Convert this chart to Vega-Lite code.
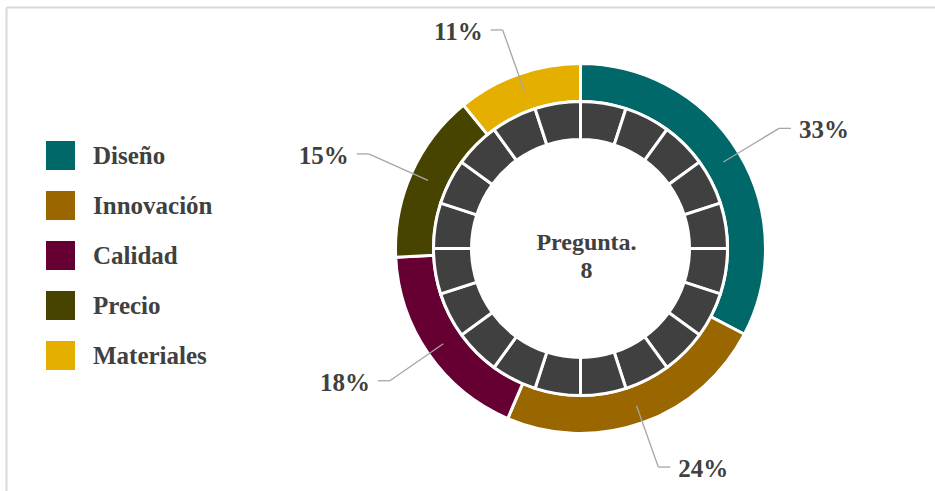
{
  "$schema": "https://vega.github.io/schema/vega-lite/v6.json",
  "width": 929,
  "height": 484,
  "autosize": {"type": "none"},
  "padding": {"left": 6, "top": 7, "right": 0, "bottom": 0},
  "background": "white",
  "config": {
    "view": {"stroke": null},
    "font": "Liberation Serif",
    "axis": {"domainColor": "#d9d9d9", "domainWidth": 2, "labels": false, "ticks": false, "grid": false}
  },
  "datasets": {
    "respuestas": [
      {"aspecto": "Diseño", "porcentaje": 0.33, "orden": 1},
      {"aspecto": "Innovación", "porcentaje": 0.24, "orden": 2},
      {"aspecto": "Calidad", "porcentaje": 0.18, "orden": 3},
      {"aspecto": "Precio", "porcentaje": 0.15, "orden": 4},
      {"aspecto": "Materiales", "porcentaje": 0.11, "orden": 5}
    ],
    "anillo": [
      {"sector": 1, "valor": 1}, {"sector": 2, "valor": 1}, {"sector": 3, "valor": 1}, {"sector": 4, "valor": 1},
      {"sector": 5, "valor": 1}, {"sector": 6, "valor": 1}, {"sector": 7, "valor": 1}, {"sector": 8, "valor": 1},
      {"sector": 9, "valor": 1}, {"sector": 10, "valor": 1}, {"sector": 11, "valor": 1}, {"sector": 12, "valor": 1},
      {"sector": 13, "valor": 1}, {"sector": 14, "valor": 1}, {"sector": 15, "valor": 1}, {"sector": 16, "valor": 1},
      {"sector": 17, "valor": 1}, {"sector": 18, "valor": 1}, {"sector": 19, "valor": 1}, {"sector": 20, "valor": 1}
    ],
    "centro": [{"titulo": "Pregunta.\n8"}]
  },
  "resolve": {"scale": {"theta": "independent"}},
  "layer": [
    {
      "data": {"name": "respuestas"},
      "mark": {"type": "arc", "radius": 185, "radius2": 147, "stroke": "white", "strokeWidth": 3},
      "encoding": {
        "x": {"datum": 0, "type": "quantitative", "scale": {"domain": [-574.5, 354.5], "nice": false, "zero": false}, "axis": {"orient": "top", "title": null}},
        "y": {"datum": 0, "type": "quantitative", "scale": {"domain": [-242.5, 241.5], "nice": false, "zero": false}, "axis": {"orient": "left", "title": null}},
        "theta": {"field": "porcentaje", "type": "quantitative", "stack": true},
        "order": {"field": "orden", "type": "quantitative"},
        "color": {
          "field": "aspecto", "type": "nominal",
          "sort": ["Diseño", "Innovación", "Calidad", "Precio", "Materiales"],
          "scale": {"domain": ["Diseño", "Innovación", "Calidad", "Precio", "Materiales"], "range": ["#006868", "#996600", "#660033", "#474400", "#E5AF00"]},
          "legend": {
            "orient": "none", "legendX": 40, "legendY": 134, "title": null,
            "symbolType": "square", "symbolSize": 841, "symbolStrokeWidth": 0, "symbolOpacity": 1,
            "labelFont": "Liberation Serif", "labelFontSize": 25, "labelFontWeight": "bold", "labelColor": "#404040",
            "labelOffset": 18, "rowPadding": 21, "padding": 0, "labelLimit": 300
          }
        }
      }
    },
    {
      "data": {"name": "anillo"},
      "mark": {"type": "arc", "radius": 147, "radius2": 109, "stroke": "white", "strokeWidth": 3, "color": "#404040"},
      "encoding": {
        "x": {"datum": 0, "type": "quantitative", "scale": {"domain": [-574.5, 354.5], "nice": false, "zero": false}, "axis": {"orient": "top", "title": null}},
        "y": {"datum": 0, "type": "quantitative", "scale": {"domain": [-242.5, 241.5], "nice": false, "zero": false}, "axis": {"orient": "left", "title": null}},
        "theta": {"field": "valor", "type": "quantitative", "stack": true},
        "order": {"field": "sector", "type": "quantitative"}
      }
    },
    {
      "data": {"name": "respuestas"},
      "transform": [
        {"window": [{"op": "sum", "field": "porcentaje", "as": "acumulado"}], "sort": [{"field": "orden"}], "frame": [null, 0]},
        {"joinaggregate": [{"op": "sum", "field": "porcentaje", "as": "total"}]},
        {"calculate": "2*PI*(datum.acumulado - datum.porcentaje/2)/datum.total", "as": "angulo"},
        {"calculate": "167*sin(datum.angulo)", "as": "xa"},
        {"calculate": "167*cos(datum.angulo)", "as": "ya"},
        {"calculate": "232*sin(datum.angulo)", "as": "xb"},
        {"calculate": "232*cos(datum.angulo)", "as": "yb"},
        {"calculate": "datum.xb >= 0 ? 1 : -1", "as": "lado"},
        {"calculate": "datum.xb + 12*datum.lado", "as": "xc"},
        {"calculate": "datum.xc + 8*datum.lado", "as": "xd"}
      ],
      "layer": [
        {
          "mark": {"type": "rule", "color": "#a6a6a6", "strokeWidth": 1.3},
          "encoding": {
            "x": {"field": "xa", "type": "quantitative", "scale": {"domain": [-574.5, 354.5], "nice": false, "zero": false}, "axis": {"orient": "top", "title": null}},
            "y": {"field": "ya", "type": "quantitative", "scale": {"domain": [-242.5, 241.5], "nice": false, "zero": false}, "axis": {"orient": "left", "title": null}},
            "x2": {"field": "xb"},
            "y2": {"field": "yb"}
          }
        },
        {
          "mark": {"type": "rule", "color": "#a6a6a6", "strokeWidth": 1.3},
          "encoding": {
            "x": {"field": "xb", "type": "quantitative", "scale": {"domain": [-574.5, 354.5], "nice": false, "zero": false}, "axis": {"orient": "top", "title": null}},
            "y": {"field": "yb", "type": "quantitative", "scale": {"domain": [-242.5, 241.5], "nice": false, "zero": false}, "axis": {"orient": "left", "title": null}},
            "x2": {"field": "xc"},
            "y2": {"field": "yb"}
          }
        },
        {
          "transform": [{"filter": "datum.lado > 0"}],
          "mark": {"type": "text", "align": "left", "baseline": "middle", "dy": 2, "font": "Liberation Serif", "fontSize": 25, "fontWeight": "bold", "color": "#404040"},
          "encoding": {
            "x": {"field": "xd", "type": "quantitative", "scale": {"domain": [-574.5, 354.5], "nice": false, "zero": false}, "axis": {"orient": "top", "title": null}},
            "y": {"field": "yb", "type": "quantitative", "scale": {"domain": [-242.5, 241.5], "nice": false, "zero": false}, "axis": {"orient": "left", "title": null}},
            "text": {"field": "porcentaje", "type": "quantitative", "format": ".0%"}
          }
        },
        {
          "transform": [{"filter": "datum.lado < 0"}],
          "mark": {"type": "text", "align": "right", "baseline": "middle", "dy": 2, "font": "Liberation Serif", "fontSize": 25, "fontWeight": "bold", "color": "#404040"},
          "encoding": {
            "x": {"field": "xd", "type": "quantitative", "scale": {"domain": [-574.5, 354.5], "nice": false, "zero": false}, "axis": {"orient": "top", "title": null}},
            "y": {"field": "yb", "type": "quantitative", "scale": {"domain": [-242.5, 241.5], "nice": false, "zero": false}, "axis": {"orient": "left", "title": null}},
            "text": {"field": "porcentaje", "type": "quantitative", "format": ".0%"}
          }
        }
      ]
    },
    {
      "data": {"name": "centro"},
      "mark": {"type": "text", "align": "center", "baseline": "middle", "lineBreak": "\n", "lineHeight": 28, "font": "Liberation Serif", "fontSize": 24, "fontWeight": "bold", "color": "#404040"},
      "encoding": {
        "x": {"datum": 6, "type": "quantitative", "scale": {"domain": [-574.5, 354.5], "nice": false, "zero": false}, "axis": {"orient": "top", "title": null}},
        "y": {"datum": 6, "type": "quantitative", "scale": {"domain": [-242.5, 241.5], "nice": false, "zero": false}, "axis": {"orient": "left", "title": null}},
        "text": {"field": "titulo", "type": "nominal"}
      }
    }
  ]
}
